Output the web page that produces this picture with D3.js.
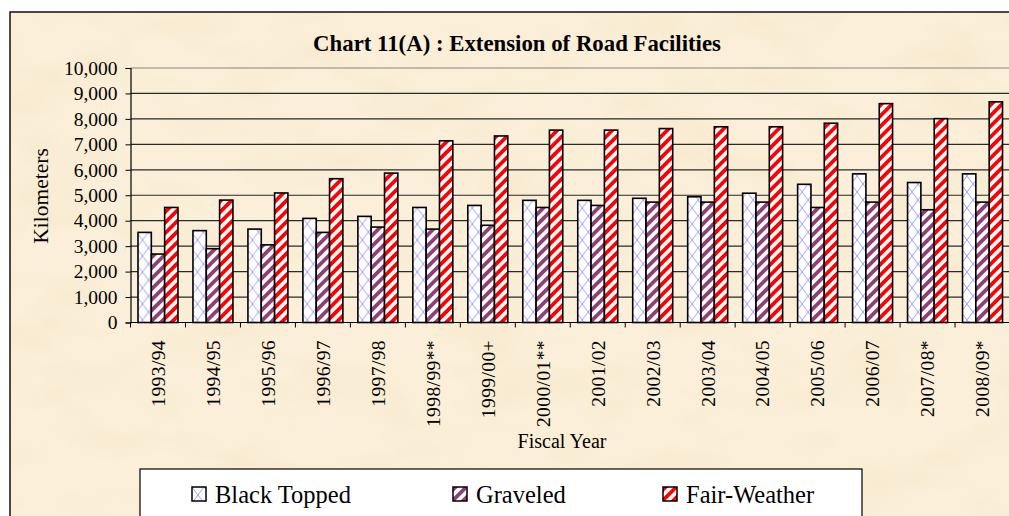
<!DOCTYPE html>
<html>
<head>
<meta charset="utf-8">
<script src="https://cdn.jsdelivr.net/npm/d3@7/dist/d3.min.js"></script>
<style>
  body { margin:0; background:#fff; }
  svg { display:block; font-family:"Liberation Serif","Times New Roman",serif; }
</style>
</head>
<body>
<div id="chart"></div>
<script>
var years = ["1993/94","1994/95","1995/96","1996/97","1997/98","1998/99**","1999/00+","2000/01**",
             "2001/02","2002/03","2003/04","2004/05","2005/06","2006/07","2007/08*","2008/09*"];
var blackTopped = [3540,3610,3670,4090,4170,4520,4600,4800,4800,4880,4940,5080,5430,5840,5500,5840];
var graveled    = [2690,2900,3050,3540,3750,3670,3820,4520,4600,4730,4730,4730,4520,4730,4430,4730];
var fairWeather = [4520,4810,5090,5650,5870,7140,7330,7560,7560,7620,7690,7690,7830,8600,8010,8670];
var seriesNames = ["Black Topped","Graveled","Fair-Weather"];
var yTicks = [0,1000,2000,3000,4000,5000,6000,7000,8000,9000,10000];

function drawChart(){
  var W = 1009, H = 516;
  var svg = d3.select("#chart").append("svg").attr("width", W).attr("height", H);
  var defs = svg.append("defs");

  // parchment texture
  var f = defs.append("filter").attr("id","paper").attr("x",0).attr("y",0).attr("width","100%").attr("height","100%");
  f.append("feTurbulence").attr("type","fractalNoise").attr("baseFrequency","0.011 0.022").attr("numOctaves",4).attr("seed",7);
  f.append("feColorMatrix").attr("type","matrix")
    .attr("values","0 0 0 0 0.90  0 0 0 0 0.78  0 0 0 0 0.55  1.8 0 0 0 -0.78");

  // fill patterns
  var pBT = defs.append("pattern").attr("id","pBT").attr("patternUnits","userSpaceOnUse")
    .attr("width",12).attr("height",16);
  pBT.append("rect").attr("width",12).attr("height",16).attr("fill","#fff");
  pBT.append("path").attr("d","M0,0 L6,8 L0,16 M12,0 L6,8 L12,16").attr("stroke","#a0a0ff").attr("stroke-width",1).attr("fill","none");

  function stripes(id, color){
    var p = defs.append("pattern").attr("id",id).attr("patternUnits","userSpaceOnUse")
      .attr("width",7.5).attr("height",7.5).attr("patternTransform","rotate(45)");
    p.append("rect").attr("width",7.5).attr("height",7.5).attr("fill","#fff");
    p.append("rect").attr("width",3.8).attr("height",7.5).attr("fill",color);
  }
  stripes("pGR","#8e3f74");
  stripes("pFW","#ff0000");
  var fills = ["url(#pBT)","url(#pGR)","url(#pFW)"];

  // frame + background
  svg.append("rect").attr("x",10).attr("y",12).attr("width",1100).attr("height",600)
    .attr("fill","#fbefd9").attr("stroke","#111").attr("stroke-width",1.5);
  svg.append("rect").attr("x",11).attr("y",13).attr("width",1100).attr("height",600)
    .attr("filter","url(#paper)").attr("opacity",0.6);

  var plotLeft = 130.5, plotRight = 1010, plotTop = 68, plotBottom = 322.5;

  var x = d3.scaleBand().domain(years).range([plotLeft, plotRight]).padding(0);
  var inner = d3.scaleBand().domain(seriesNames).range([7.5, x.bandwidth()-7.5]).padding(0);
  var y = d3.scaleLinear().domain([0,10000]).range([plotBottom, plotTop]);

  // title
  svg.append("text").attr("x",517).attr("y",50.5).attr("text-anchor","middle")
    .style("font-size","22.8px").style("font-weight","bold").text("Chart 11(A) : Extension of Road Facilities");

  // gridlines
  svg.append("g").selectAll("line").data(yTicks.filter(function(d){return d>0;})).enter().append("line")
    .attr("x1",plotLeft).attr("x2",plotRight).attr("y1",function(d){return y(d);}).attr("y2",function(d){return y(d);})
    .attr("stroke",function(d){return d==10000 ? "#858585" : "#2a2a2a";}).attr("stroke-width",1.2);

  // y axis
  var yAxis = svg.append("g").attr("transform","translate(" + plotLeft + ",0)")
    .call(d3.axisLeft(y).tickValues(yTicks).tickSize(5).tickPadding(8).tickFormat(d3.format(",")));
  yAxis.select(".domain").attr("stroke","#000").attr("stroke-width",1.2);
  yAxis.selectAll("line").attr("stroke","#000");
  yAxis.selectAll("text").style("font-size","19.5px").style("font-family","Liberation Serif").attr("fill","#000");

  svg.append("text").attr("transform","translate(48,196) rotate(-90)").attr("text-anchor","middle")
    .style("font-size","21.5px").text("Kilometers");

  // bars
  var rows = years.map(function(yr,i){ return {year:yr, vals:[blackTopped[i], graveled[i], fairWeather[i]]}; });
  var groups = svg.append("g").selectAll("g").data(rows).enter().append("g")
    .attr("transform",function(d){return "translate(" + x(d.year) + ",0)";});
  groups.selectAll("rect").data(function(d){return d.vals.map(function(v,k){return {name:seriesNames[k], v:v, k:k};});})
    .enter().append("rect")
    .attr("x",function(d){return inner(d.name);})
    .attr("width",inner.bandwidth())
    .attr("y",function(d){return y(d.v);})
    .attr("height",function(d){return plotBottom - y(d.v);})
    .attr("fill",function(d){return fills[d.k];})
    .attr("stroke","#000").attr("stroke-width",1.6);

  // x axis
  var xAxisG = svg.append("g").attr("transform","translate(0," + plotBottom + ")");
  xAxisG.append("line").attr("x1",plotLeft).attr("x2",plotRight).attr("stroke","#000").attr("stroke-width",1.2);
  xAxisG.selectAll(".tk").data(years).enter().append("line").attr("class","tk")
    .attr("x1",function(d){return x(d);}).attr("x2",function(d){return x(d);})
    .attr("y1",0).attr("y2",5).attr("stroke","#000");
  svg.append("g").selectAll("text").data(years).enter().append("text")
    .attr("transform",function(d){return "translate(" + (x(d) + x.bandwidth()/2) + ",340) rotate(-90)";})
    .attr("text-anchor","end").attr("dy","0.35em")
    .style("font-size","19.5px").style("letter-spacing","0.4px").text(function(d){return d;});

  svg.append("text").attr("x",562).attr("y",448).attr("text-anchor","middle")
    .style("font-size","20px").text("Fiscal Year");

  // legend
  svg.append("rect").attr("x",140).attr("y",469).attr("width",722).attr("height",80)
    .attr("fill","#fff").attr("stroke","#000").attr("stroke-width",1.2);
  var legX = [192, 453, 663];
  var leg = svg.append("g").selectAll("g").data(seriesNames).enter().append("g")
    .attr("transform",function(d,i){return "translate(" + legX[i] + ",487)";});
  leg.append("rect").attr("width",14).attr("height",14)
    .attr("fill",function(d,i){return fills[i];}).attr("stroke","#000").attr("stroke-width",1.5);
  leg.append("text").attr("x",23).attr("y",16).style("font-size","24.5px").text(function(d){return d;});
}

drawChart();
</script>
</body>
</html>
